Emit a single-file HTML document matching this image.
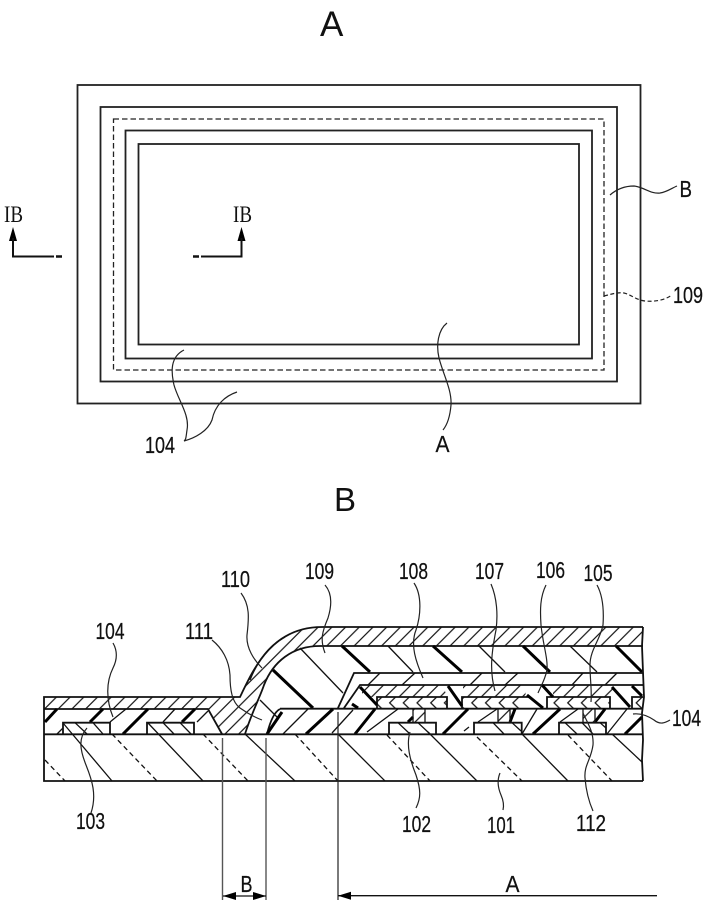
<!DOCTYPE html>
<html><head><meta charset="utf-8"><style>
html,body{margin:0;padding:0;background:#fff}
svg{display:block}
text{font-family:"Liberation Sans",sans-serif;fill:#111}
.n{font-size:23px;stroke:#111;stroke-width:.25}
.s{font-family:"Liberation Serif",serif;font-size:23px}
.r{fill:none;stroke:#222;stroke-width:1.8}
.l{fill:none;stroke:#222;stroke-width:1.2}
.t{stroke:#111;stroke-width:1.3;fill:none}
.k{stroke:#000;stroke-width:3;fill:none}
.d{stroke:#111;stroke-width:1.3;fill:none;stroke-dasharray:5 3.5}
.e{stroke:#111;stroke-width:1.8;fill:none}
.g{stroke:#555;stroke-width:1.4;fill:none}
</style></head><body>
<svg width="709" height="910" viewBox="0 0 709 910" xmlns="http://www.w3.org/2000/svg">
<defs>
<pattern id="h" patternUnits="userSpaceOnUse" width="13.7" height="13.7"><path d="M-1 14.7L14.7 -1M-1 1L1 -1M12.7 14.7L14.7 12.7" stroke="#111" stroke-width="1.2" fill="none"/></pattern>
<pattern id="c" patternUnits="userSpaceOnUse" x="0" y="697" width="13.7" height="11.7"><path d="M12 0L6 5.85L12 11.7" stroke="#111" stroke-width="1.2" fill="none"/></pattern>
</defs>
<rect width="709" height="910" fill="#fff"/>

<!-- Figure A -->
<text x="320" y="36" style="font-size:35px">A</text>
<rect class="r" x="77.5" y="85" width="563" height="318.5"/>
<rect class="r" x="100.5" y="107" width="516.5" height="274.5"/>
<rect x="113.5" y="119" width="490.5" height="251" fill="none" stroke="#222" stroke-width="1.3" stroke-dasharray="5.5 3"/>
<rect class="r" x="125.5" y="130.5" width="466.5" height="228"/>
<rect class="r" x="138.5" y="144" width="440.5" height="200.5"/>

<text class="s" x="4" y="222" textLength="19" lengthAdjust="spacingAndGlyphs">IB</text>
<text class="s" x="233" y="222" textLength="19" lengthAdjust="spacingAndGlyphs">IB</text>
<path d="M13 227L17 241H9Z M241.5 227L245.5 241H237.5Z" fill="#000"/>
<path d="M13 238V256.5H54M241.5 238V256.5H201" fill="none" stroke="#111" stroke-width="2"/>
<path d="M56 256.5H62M193 256.5H199" stroke="#111" stroke-width="2.4" fill="none"/>

<path class="l" d="M184 350C170 357 171 372 174 385C178 400 190 415 187 430C186 437 186 440 184 441C195 438 208 431 212 420C215 405 225 396 237 392"/>
<path class="l" d="M447 323C438 330 436 345 439 358C443 374 452 390 451 405C450 417 447 425 443 430"/>
<path class="l" d="M610 195C618 188 626 186 634 186C644 187 650 194 660 193C667 192 672 188 677 186"/>
<path class="l" d="M604 296C612 294 618 292 624 293C632 295 636 300 645 301C655 302 665 300 672 295" stroke-dasharray="4 2.5"/>
<text class="n" x="145" y="453" textLength="30" lengthAdjust="spacingAndGlyphs">104</text>
<text class="n" x="435.500" y="452" textLength="14" lengthAdjust="spacingAndGlyphs">A</text>
<text class="n" x="679.500" y="197" textLength="12.500" lengthAdjust="spacingAndGlyphs">B</text>
<text class="n" x="673" y="303" textLength="30" lengthAdjust="spacingAndGlyphs">109</text>

<!-- Figure B -->
<text x="334" y="511" style="font-size:33px">B</text>

<!-- top hatched layer -->
<path d="M44 697H240C254 668 272 627 322 627H643V646H320C292 646 273 662 264 685C260 697 252 712 245 734H222L208 709H44Z" fill="url(#h)"/>
<path class="e" d="M44 734V697H240C254 668 272 627 322 627H643"/>
<path class="e" d="M44 709H208L222 734M245 734C252 712 260 697 264 685C273 662 292 646 320 646H643"/>
<path class="t" d="M250 680C258 660 270 645 285 637"/>

<!-- 109 interior -->
<path class="k" d="M273 670L313 708M342 646L370 672M433 646L462 672M523 646L550 672M616 646L642 672"/>
<path class="t" d="M300 648L343 693M388 646L413 672M479 646L505 672M570 646L597 672"/>

<!-- 111 -->
<path class="t" d="M260 700L277 717"/>
<path class="e" d="M280 709C274 712 270 722 267 734"/>

<!-- 108 -->
<path class="e" d="M338 708L354 673H643M344 708L360 685H643M280 708.700H643"/>
<path class="t" d="M368 685L380 673M402 685L415 673M470 685L482 673M505 685L518 673M572 685L583 673M605 685L617 673"/>

<!-- 107 layer -->
<path d="M362 685H443L447 697H362ZM463 685H527L525 697H463ZM553 685H612L615 697H553Z" fill="url(#h)"/>
<!-- 106 chevrons -->
<rect x="377" y="697" width="70" height="11.700" fill="url(#c)"/>
<rect x="462" y="697" width="63" height="11.700" fill="url(#c)"/>
<rect x="547" y="697" width="63" height="11.700" fill="url(#c)"/>
<rect x="632" y="697" width="11" height="11.700" fill="url(#c)"/>
<path class="e" d="M377 708.700V697H447V708.700M462 708.700V697H525L530 697M547 708.700V697H610V708.700M632 708.700V697H643"/>
<path class="k" d="M360 687L377 705M352 704L358 708M448 686L462 706M527 695L543 708M542 685L553 697M612 687L630 707M632 686L642 696"/>

<!-- 104 layer hatch -->
<path class="k" d="M45 722L57 709M90 722L103 709M123 734L148 709M182 722L195 709M267 734L282 712M306 734L333 709M355 734L375 709M408 722L413 717M443 734L468 709M510 722L515 709M533 734L560 709M595 722L605 709M625 734L642 717"/>
<path class="t" d="M57 734L63 728M110 722L126 709M163 722L175 709M197 722L208 711M283 734L308 709M332 733L353 710M367 732L398 709M464 731L469 727M478 722L497 709M522 734L537 709M560 722L578 709M607 734L627 709"/>

<!-- contact holes -->
<rect x="413" y="708.700" width="12" height="14" fill="url(#h)"/>
<rect x="498" y="708.700" width="12" height="14" fill="url(#h)"/>
<rect x="583" y="708.700" width="12" height="14" fill="url(#h)"/>
<path class="t" d="M413 708.700V722.700M425 708.700V722.700M498 708.700V722.700M510 708.700V722.700M583 708.700V722.700M595 708.700V722.700"/>

<!-- pads -->
<path class="e" d="M63 734V722.700H110V734M147 734V722.700H194V734M389 734V722.700H436V734M474 734V722.700H521.700V734M559 734V722.700H606V734"/>
<path class="t" d="M75 722.700L87 734M93 722.700L103 734M163 722.700L174 734M180 722.700L191 734M398 722.700L410 734M418 722.700L430 734M493 722.700L504 734M512 722.700L521 731M565 722.700L577 734M582 722.700L593 734M600 722.700L606 728"/>

<!-- substrate -->
<path class="e" d="M44 734.300H643M44 734V781H643"/>
<path class="t" d="M63 723L112 781M148 723L203 781M245 734L295 781M338 734L385 781M428 732L477 781M522 734L568 781M612 734L642 762"/>
<path class="d" d="M45 760L65 781M112 734L157 781M203 734L248 781M295 734L338 781M387 735L430 781M477 737L522 781M568 735L612 781"/>
<path class="e" d="M643 627L642 646L643 672L644 697L642 713L643 740L642 760L643 781"/>

<!-- dimensions -->
<path class="g" d="M222.500 738V900M266 738V900"/>
<path d="M338 712V900" stroke="#222" stroke-width="1.200" fill="none"/>
<path d="M223 896H266M338 895.700H657" stroke="#111" stroke-width="1.300" fill="none"/>
<path d="M223 896L236 892V900ZM266 896L253 892V900ZM338 895.700L351 891.700V899.700Z" fill="#000"/>
<text class="n" x="240.500" y="892" textLength="12" lengthAdjust="spacingAndGlyphs">B</text>
<text class="n" x="505.500" y="892" textLength="14" lengthAdjust="spacingAndGlyphs">A</text>

<!-- leaders -->
<path class="l" d="M241 593C250 605 249 618 247 635C246 648 254 660 262 668"/>
<path class="l" d="M325 585C332 593 332 605 328 618C322 632 320 640 325 653"/>
<path class="l" d="M212 640C222 648 229 660 230 675C230 690 232 702 240 708C247 713 254 717 262 720"/>
<path class="l" d="M113 643C117 650 118 658 113 668C106 682 106 700 113 717"/>
<path class="l" d="M87 728C78 738 80 750 86 765C92 780 97 795 91 813"/>
<path class="l" d="M414 583C422 595 421 615 416 630C410 645 416 662 423 678"/>
<path class="l" d="M491 584C497 598 498 615 496 630C492 650 489 670 495 691"/>
<path class="l" d="M546 585C540 597 540 610 541 625C543 645 548 658 547 670C545 680 540 688 538 693"/>
<path class="l" d="M597 585C603 596 604 610 603 625C600 640 590 650 590 665C590 680 592 690 591 702"/>
<path class="l" d="M410 732C406 745 410 760 416 775C421 790 421 798 416 808"/>
<path class="l" d="M500 773C497 780 498 788 501 795C504 802 504 806 503 810"/>
<path class="l" d="M583 713C587 722 594 732 593 745C591 760 584 765 585 778C586 790 589 802 593 811"/>
<path class="l" d="M633 714C641 713 648 716 654 720C660 725 665 723 670 720"/>

<!-- labels -->
<text class="n" x="95.500" y="639" textLength="29" lengthAdjust="spacingAndGlyphs">104</text>
<text class="n" x="185" y="639" textLength="28" lengthAdjust="spacingAndGlyphs">111</text>
<text class="n" x="221" y="587" textLength="29" lengthAdjust="spacingAndGlyphs">110</text>
<text class="n" x="305" y="579" textLength="29" lengthAdjust="spacingAndGlyphs">109</text>
<text class="n" x="399" y="579" textLength="29" lengthAdjust="spacingAndGlyphs">108</text>
<text class="n" x="475" y="579" textLength="29" lengthAdjust="spacingAndGlyphs">107</text>
<text class="n" x="536" y="578" textLength="29" lengthAdjust="spacingAndGlyphs">106</text>
<text class="n" x="583.500" y="581" textLength="29" lengthAdjust="spacingAndGlyphs">105</text>
<text class="n" x="76" y="829" textLength="29" lengthAdjust="spacingAndGlyphs">103</text>
<text class="n" x="402" y="832" textLength="29" lengthAdjust="spacingAndGlyphs">102</text>
<text class="n" x="487" y="833" textLength="28" lengthAdjust="spacingAndGlyphs">101</text>
<text class="n" x="576" y="831" textLength="30" lengthAdjust="spacingAndGlyphs">112</text>
<text class="n" x="672" y="726" textLength="29" lengthAdjust="spacingAndGlyphs">104</text>
</svg>
</body></html>
